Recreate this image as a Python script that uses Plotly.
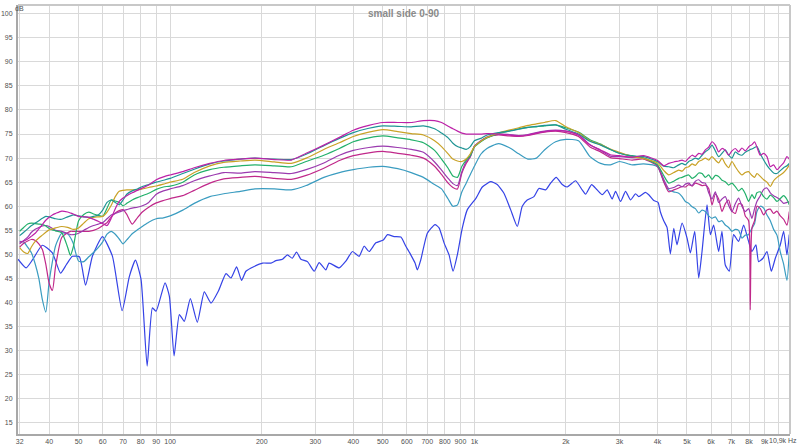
import plotly.graph_objects as go

# ---------------- data ----------------
F_LOW = [32, 33, 34, 35, 36, 37, 38, 39, 40, 41, 42, 44, 46, 47, 48, 50, 52, 54, 56, 58,
         60, 62, 64, 66, 68, 70, 72, 75, 78, 81, 85, 90, 95, 100, 110, 120, 135, 150, 170, 190]
F_MID = [220, 250, 280, 320, 360, 400, 450, 500, 560, 620, 680, 740, 780, 820, 850, 880, 910, 940,
         970, 1000, 1050, 1100, 1200, 1300, 1400, 1500, 1600, 1700, 1850, 2000, 2200, 2400, 2600,
         2800, 3000, 3300, 3600, 4000, 4200]
F_HIGH = [4356, 4524, 4698, 4818, 4941, 5067, 5196, 5329, 5465, 5604, 5747, 5894, 6044, 6198,
          6355, 6517, 6683, 6854, 7029, 7208, 7392, 7581, 7774, 7972, 8073, 8176, 8342, 8491,
          8712, 8935, 9162, 9396, 9635, 9881, 10135, 10393, 10658, 10847]

MAGENTA = [52.5, 52.8, 53.2, 53.8, 54.4, 55.3, 56.2, 57.1, 57.7, 58.2, 58.5, 59.0, 58.8, 58.6, 58.4, 57.9, 57.8, 57.7, 57.3, 56.9,
           56.4, 56.0, 57.5, 59.5, 61.0, 61.7, 62.2, 62.8, 63.3, 63.8, 64.4, 65.5, 66.1, 66.5, 67.2, 68.0, 68.9, 69.5, 69.8, 70.0,
           69.7, 69.6, 71.0, 72.7, 74.3, 75.8, 76.8, 77.4, 77.4, 77.4, 77.8, 77.8, 77.4, 76.6, 76.1, 75.6, 75.2, 75.0, 75.0,
           75.0, 75.0, 75.1, 75.0, 74.8, 74.6, 74.8, 75.2, 75.5, 75.7, 75.6, 74.8, 72.7, 71.7, 70.7, 70.5, 70.2, 70.5, 69.5, 68.4,
           68.9, 69.2, 69.4, 69.6, 69.3, 70.0, 70.6, 70.3, 71.0, 70.8, 71.7, 72.3, 73.4, 72.7, 71.3, 72.0, 71.6, 70.6, 71.5,
           72.0, 71.3, 72.1, 71.5, 72.3, 72.6, 72.8, 73.4, 72.3, 70.6, 71.0, 70.3, 68.2, 68.6, 67.6, 68.3, 69.0, 70.3, 69.8]
TEAL = [53.9, 54.6, 55.3, 56.0, 56.5, 57.0, 57.5, 57.9, 57.8, 57.6, 57.4, 57.3, 57.8, 58.0, 58.2, 58.0, 57.8, 57.7, 57.9, 58.2,
        59.2, 60.8, 61.3, 60.8, 60.3, 61.3, 62.5, 63.2, 63.6, 64.1, 64.5, 65.0, 65.4, 65.8, 66.8, 67.7, 68.8, 69.4, 69.8, 70.0,
        69.8, 69.7, 70.8, 72.6, 74.1, 75.3, 76.2, 76.7, 76.6, 76.5, 76.7, 76.1, 75.2, 74.2, 73.1, 72.4, 72.1, 71.8, 72.4,
        73.6, 74.1, 74.8, 75.3, 75.6, 76.0, 76.4, 76.6, 76.8, 76.9, 76.0, 75.0, 73.5, 72.7, 71.8, 71.0, 70.4, 70.3, 69.3, 68.3,
        68.2, 68.0, 68.6, 68.9, 68.6, 69.3, 69.6, 70.0, 69.8, 70.6, 71.3, 71.8, 72.7, 71.5, 70.3, 71.0, 71.7, 70.6, 70.0,
        71.3, 70.8, 70.6, 71.2, 71.6, 71.8, 71.9, 72.2, 72.4, 70.9, 69.6, 68.5, 67.6, 66.9, 66.8, 67.4, 68.0, 68.4, 68.9]
GOLD = [51.4, 50.5, 50.2, 51.6, 52.7, 53.4, 54.0, 54.6, 55.1, 55.3, 55.5, 55.8, 55.6, 55.4, 55.2, 55.5, 56.5, 57.4, 57.7, 57.8,
        57.9, 58.8, 60.2, 62.0, 63.1, 63.3, 63.4, 63.4, 63.4, 63.6, 63.9, 64.2, 64.6, 65.0, 65.6, 67.0, 68.4, 69.1, 69.4, 69.6,
        69.2, 68.9, 70.0, 71.8, 73.2, 74.5, 75.4, 75.9, 75.5, 75.1, 74.8, 73.6, 72.4, 70.9, 69.8, 69.4, 69.3, 69.8, 70.9,
        72.4, 73.5, 74.3, 75.2, 75.8, 76.3, 76.8, 77.1, 77.4, 77.8, 76.5, 75.3, 73.6, 72.8, 71.9, 71.2, 70.3, 69.9, 69.0, 67.4,
        66.5, 67.0, 67.5, 67.3, 68.0, 68.2, 68.8, 68.5, 69.3, 69.6, 70.0, 69.6, 70.3, 69.6, 69.0, 70.0, 68.8, 68.0, 69.3,
        68.2, 67.2, 66.5, 67.0, 67.2, 66.8, 66.4, 66.0, 66.8, 66.2, 65.5, 65.0, 64.1, 65.3, 66.0, 66.5, 67.0, 67.8, 68.6]
GREEN = [54.8, 55.6, 56.3, 56.5, 56.4, 56.3, 56.2, 55.9, 55.4, 55.1, 54.9, 54.5, 51.5, 49.8, 51.5, 57.0, 58.3, 58.8, 58.4, 58.1,
         57.9, 59.6, 61.3, 61.1, 60.8, 60.1, 60.6, 61.3, 61.8, 62.2, 62.7, 63.5, 64.0, 64.2, 65.0, 66.5, 67.6, 68.1, 68.4, 68.6,
         68.4, 68.2, 69.3, 70.6, 72.0, 73.4, 74.2, 74.6, 74.2, 73.8, 73.2, 71.6, 69.8, 67.9, 66.3, 66.0, 68.3, 69.6, 70.5,
         72.3, 73.4, 74.2, 75.1, 75.6, 76.1, 76.4, 76.5, 76.7, 76.9, 76.3, 75.4, 73.8, 72.9, 71.8, 71.0, 70.5, 70.0, 68.6, 66.3,
         64.8, 65.2, 65.8, 66.0, 66.3, 66.5, 65.8, 66.2, 66.9, 66.8, 66.0, 66.5, 65.6, 66.4, 66.2, 65.4, 65.1, 64.4, 64.8,
         64.1, 63.2, 63.7, 62.6, 61.0, 61.7, 62.4, 61.6, 62.8, 63.0, 62.0, 61.5, 62.3, 61.8, 61.0, 61.6, 62.2, 61.4, 60.3]
PURPLE = [52.2, 52.9, 53.6, 54.6, 55.2, 55.6, 55.9, 56.0, 55.8, 55.4, 55.0, 54.8, 54.3, 54.1, 54.1, 54.4, 55.0, 55.6, 56.0, 56.3,
          56.6, 57.4, 58.2, 58.5, 58.8, 59.1, 59.3, 59.6, 59.8, 60.1, 60.8, 62.5, 63.2, 63.6, 64.3, 65.3, 66.3, 67.0, 66.9, 67.2,
          67.0, 66.8, 67.6, 69.0, 70.6, 71.6, 72.2, 72.5, 72.2, 71.8, 71.2, 69.2, 67.5, 65.8, 64.7, 64.3, 67.2, 69.3, 70.3,
          72.4, 73.6, 74.4, 75.0, 74.9, 74.7, 74.9, 75.3, 75.6, 75.8, 75.6, 74.8, 72.8, 71.6, 70.4, 70.3, 70.1, 70.0, 68.5, 65.5,
          63.7, 63.9, 64.4, 64.0, 64.6, 64.8, 64.3, 65.2, 65.5, 64.9, 64.8, 62.8, 61.5, 63.0, 60.8, 61.5, 62.0, 60.2, 58.9,
          60.5, 61.7, 60.0, 58.9, 59.5, 58.5, 57.5, 59.5, 61.0, 62.2, 63.5, 63.8, 62.8, 62.2, 61.8, 61.3, 60.6, 60.8, 61.0]
PINK = [51.5, 52.3, 52.8, 53.1, 52.9, 52.2, 51.0, 48.0, 44.0, 42.5, 47.5, 53.5, 54.5, 54.8, 54.8, 54.8, 54.8, 54.8, 55.0, 55.4,
        56.0, 56.6, 57.8, 58.6, 59.1, 59.3, 58.3, 56.3, 57.6, 58.8, 59.8, 60.7, 61.2, 61.6, 62.2, 63.3, 64.8, 65.7, 66.0, 66.2,
        65.8, 65.6, 66.4, 67.9, 69.5, 70.5, 71.1, 71.4, 71.0, 70.6, 70.0, 68.3, 66.6, 64.8, 63.9, 63.6, 66.9, 68.9, 70.3,
        72.5, 73.5, 74.3, 74.8, 74.6, 74.5, 74.7, 75.1, 75.4, 75.6, 75.3, 74.5, 72.3, 71.3, 70.1, 69.9, 69.6, 69.8, 68.3, 65.0,
        63.0, 63.4, 63.8, 64.1, 64.0, 64.5, 64.2, 64.8, 64.6, 64.3, 64.4, 63.7, 60.3, 62.5, 61.5, 58.9, 60.5, 61.3, 59.0,
        58.5, 60.5, 60.4, 58.0, 57.0, 38.5, 55.5, 57.0, 60.0, 59.5, 58.2, 59.2, 59.4, 58.5, 59.0, 58.0, 57.3, 56.1, 58.9]
LTEAL = [52.7, 52.6, 51.5, 50.3, 48.0, 45.0, 40.6, 38.0, 44.3, 48.5, 51.8, 54.4, 54.3, 53.5, 52.3, 48.6, 48.5, 49.5, 50.4, 51.4,
         52.6, 54.2, 54.8, 54.2, 53.2, 52.2, 53.0, 54.3, 55.1, 55.8, 56.7, 57.4, 57.6, 58.0, 59.2, 60.6, 62.0, 62.6, 63.1, 63.6,
         63.6, 63.4, 64.3, 66.0, 67.0, 67.6, 68.1, 68.3, 67.8, 67.0, 66.0, 64.5, 63.6, 61.5, 60.0, 60.3, 63.0, 64.8, 66.6,
         68.3, 70.8, 72.0, 73.0, 72.2, 70.9, 69.8, 70.0, 71.7, 73.4, 73.9, 73.6, 70.3, 68.9, 68.6, 69.3, 68.6, 68.8, 68.2, 65.0,
         63.4, 63.0, 62.7, 62.0, 61.0, 60.6, 59.9, 59.5, 58.6, 59.2, 58.9, 58.0, 57.5, 57.8, 56.8, 57.0, 56.1, 55.6, 54.8,
         55.2, 55.0, 53.4, 54.0, 54.1, 54.8, 55.4, 56.4, 58.9, 60.0, 59.6, 58.2, 57.0, 55.2, 54.0, 50.5, 48.0, 44.6, 50.6]

BLUE_F = [31.6, 33.6, 35.3, 38.0, 41.0, 43.6, 45.6, 47.7, 50.3, 52.7, 55.5, 59.9, 64.6, 69.5, 73.4, 76.9, 80.2, 84.0,
          87.4, 89.9, 96.2, 99.4, 103, 107.2, 111.3, 116.5, 122.8, 129.5, 136.2, 144.3, 152.6, 158.4, 165.3, 171.7,
          177.4, 188.9, 201.2, 214.4, 222.7, 234, 243, 252, 260.2, 269, 282.7, 297.4, 308.9, 324.9, 333, 359.3, 378,
          397.5, 418, 434.2, 450.9, 474.3, 502, 517.9, 544.8, 573.2, 595.3, 618.1, 638.3, 649.7, 666.8, 700.6, 742.6,
          765.7, 795.1, 825.7, 851, 879.1, 912.9, 948.3, 1013, 1062, 1132, 1189, 1251, 1316, 1384, 1437, 1492, 1570,
          1630, 1715, 1781, 1859, 1945, 2020, 2152, 2262, 2321, 2429, 2534, 2632, 2733, 2838, 2912, 3025, 3141, 3262,
          3388, 3472, 3651, 3744, 3888, 4017, 4089, 4193, 4300, 4410, 4524, 4637, 4818, 5004, 5131, 5302, 5465, 5604,
          5820, 5969, 6120, 6355, 6517, 6683, 6889, 7118, 7392, 7677, 7972, 8176, 8427, 8598, 8890, 9162, 9468, 9759,
          10135, 10393, 10658, 10847]
BLUE = [49.0, 47.2, 48.9, 51.9, 50.3, 46.1, 47.9, 49.6, 49.5, 43.6, 49.6, 53.7, 49.6, 38.3, 45.4, 48.8, 44.8, 26.8,
        38.9, 38.2, 44.1, 41.3, 28.9, 37.5, 36.1, 40.8, 35.9, 42.2, 39.9, 42.5, 46.0, 45.1, 47.4, 44.6,
        46.5, 47.5, 48.2, 48.2, 48.7, 49.0, 49.9, 49.2, 50.5, 49.0, 48.5, 46.5, 48.3, 46.8, 48.2, 47.2, 48.6,
        50.6, 49.6, 51.7, 50.6, 52.4, 53.0, 54.1, 53.7, 53.6, 51.7, 49.9, 48.2, 46.8, 48.9, 54.4, 56.2,
        55.5, 52.4, 49.9, 46.5, 49.9, 55.5, 59.3, 61.7, 64.0, 65.1, 64.5, 62.7, 59.3, 55.8, 60.0, 61.3, 62.0,
        63.7, 63.4, 64.8, 66.0, 64.5, 64.0, 65.3, 63.4, 62.5, 64.5, 63.4, 62.4, 63.4, 61.5, 63.1, 61.0, 63.1, 61.3,
        62.6, 62.0, 62.9, 62.4, 61.2, 60.8, 58.8, 57.0, 55.6, 50.1, 55.4, 52.0, 56.5, 53.4, 50.3, 54.8, 45.1, 50.6,
        60.3, 54.1, 56.1, 50.6, 54.8, 47.8, 46.5, 54.1, 52.7, 56.1, 52.7, 50.6, 52.0, 48.5, 49.2, 50.6, 46.5, 49.2,
        52.0, 54.8, 49.9, 54.1]

X_TICKS = [32, 40, 50, 60, 70, 80, 90, 100, 200, 300, 400, 500, 600, 700, 800, 900, 1000,
           2000, 3000, 4000, 5000, 6000, 7000, 8000, 9000, 10000]
X_LABELS = ["32", "40", "50", "60", "70", "80", "90", "100", "200", "300", "400", "500", "600",
            "700", "800", "900", "1k", "2k", "3k", "4k", "5k", "6k", "7k", "8k", "9k", ""]
X_END_LABEL = "10,9k Hz"
Y_TICKS = list(range(15, 101, 5))

F_ALL = F_LOW + F_MID + F_HIGH
SERIES = [
    ("light teal", LTEAL, "#3a9cc0"),
    ("pink", PINK, "#c0288a"),
    ("purple", PURPLE, "#9b3aaf"),
    ("green", GREEN, "#22b06a"),
    ("gold", GOLD, "#c9a227"),
    ("teal", TEAL, "#1e9494"),
    ("magenta", MAGENTA, "#bd22a8"),
]

fig = go.Figure()
fig.add_trace(go.Scatter(x=BLUE_F, y=BLUE, mode="lines", name="90",
                         line=dict(color="#3543e6", width=1.2, shape="spline", smoothing=0.5)))
for name, vals, col in SERIES:
    fig.add_trace(go.Scatter(x=F_ALL, y=vals, mode="lines", name=name,
                             line=dict(color=col, width=1.2, shape="spline", smoothing=0.6)))

tickfont = dict(family="Liberation Sans, Arial, sans-serif", size=7, color="#505050")
fig.update_layout(
    width=800, height=445,
    margin=dict(l=18, r=10, t=5, b=11, autoexpand=False),
    paper_bgcolor="white", plot_bgcolor="white",
    showlegend=False,
    template="none",
    xaxis=dict(type="log", range=[1.4997, 4.0377], tickmode="array", tickvals=X_TICKS,
               ticktext=X_LABELS, tickfont=tickfont, showgrid=True, gridcolor="#d9d9d9",
               gridwidth=1, showline=True, linecolor="#a8a8a8", linewidth=2, ticks="",
               zeroline=False, automargin=False, ticklabelstandoff=0),
    yaxis=dict(range=[12.7, 101.8], tickmode="array", tickvals=Y_TICKS, tickfont=tickfont,
               showgrid=True, gridcolor="#d9d9d9", gridwidth=1, showline=True,
               linecolor="#a8a8a8", linewidth=2, ticks="", zeroline=False, automargin=False,
               ticklabelstandoff=2),
)
# top and right frame
fig.add_shape(type="line", xref="paper", yref="paper", x0=0, x1=1, y0=1, y1=1,
              line=dict(color="#c8c8c8", width=2))
fig.add_shape(type="line", xref="paper", yref="paper", x0=1, x1=1, y0=0, y1=1,
              line=dict(color="#c8c8c8", width=2))
fig.add_annotation(text="<b>small side 0-90</b>", xref="paper", yref="paper", x=0.5, y=0.980,
                   xanchor="center", yanchor="middle",
                   showarrow=False, font=dict(family="Liberation Sans, Arial, sans-serif",
                                              size=10, color="#8a8a8a"))
fig.add_annotation(text="dB", xref="paper", yref="paper", x=-0.007, y=1.004, showarrow=False,
                   font=tickfont)
fig.add_annotation(text=X_END_LABEL, xref="paper", yref="paper", x=1.012, y=0, xanchor="right",
                   yanchor="top", yshift=-1, showarrow=False, font=tickfont)

fig.write_html("out.html", config={"displayModeBar": False},
               post_script="document.body.style.margin='0';document.body.style.overflow='hidden';")
